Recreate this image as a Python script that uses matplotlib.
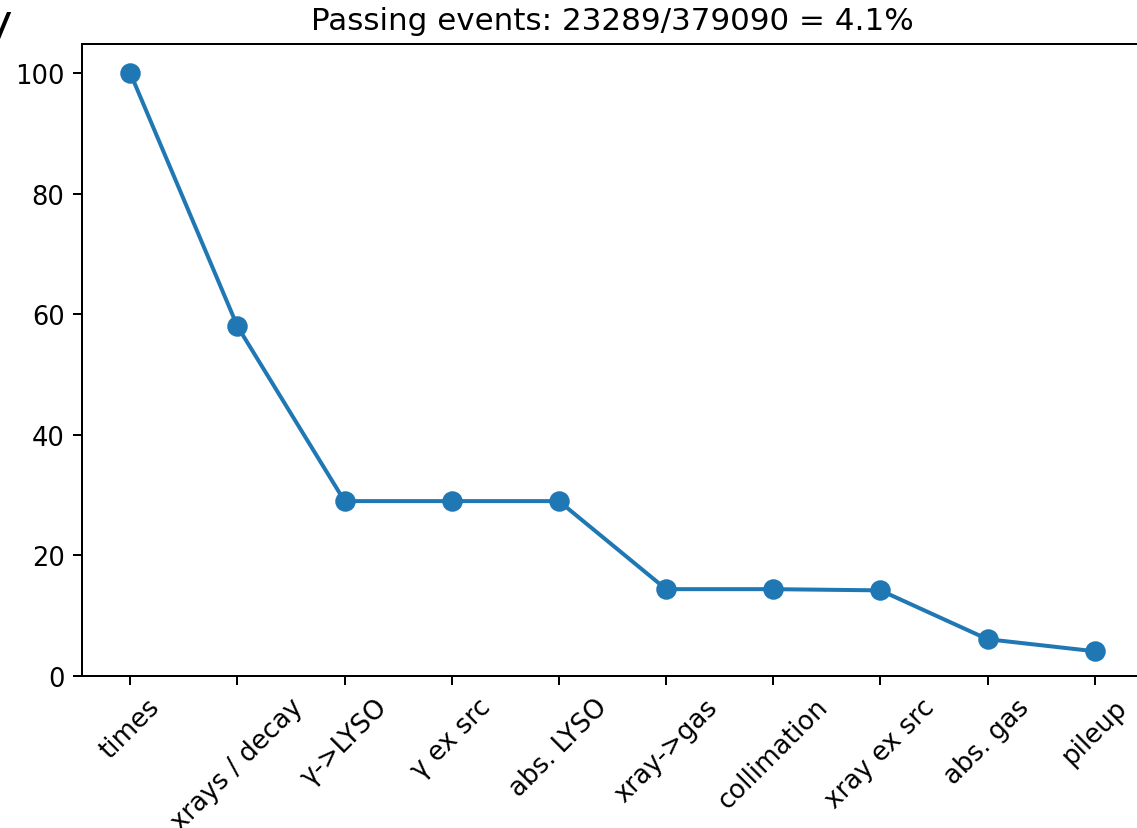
import matplotlib
matplotlib.use("Agg")
import matplotlib.pyplot as plt

categories = ["times", "xrays / decay", "γ->LYSO", "γ ex src", "abs. LYSO",
              "xray->gas", "collimation", "xray ex src", "abs. gas", "pileup"]
efficiency = [100.0, 58.0, 29.0, 29.0, 29.0, 14.4, 14.4, 14.2, 6.1, 4.1]
title_text = "Passing events: 23289/379090 = 4.1%"

DPI = 180
fig = plt.figure(figsize=(1137 / DPI, 829 / DPI), dpi=DPI)
ax = fig.add_axes([82 / 1137, 1 - 677 / 829, (1143 - 82) / 1137, (677 - 45) / 829])
x = list(range(len(categories)))
ax.plot(x, efficiency, marker="o", color="#1f77b4", linewidth=1.6, markersize=7.2)
ax.set_xticks(x)
ax.set_xticklabels(categories, rotation=45, fontsize=10.4)
ax.tick_params(axis="y", labelsize=10.3)
ax.set_xlim(-0.45, len(categories) - 1 + 0.45)
ax.set_ylim(0, 104.8)
ax.set_title(title_text, fontsize=12.4)
fig.text(13 / 1137, 1 - 2 / 829, "Efficiency", ha="right", va="top", fontsize=18)
fig.savefig("out.png", dpi=DPI)
